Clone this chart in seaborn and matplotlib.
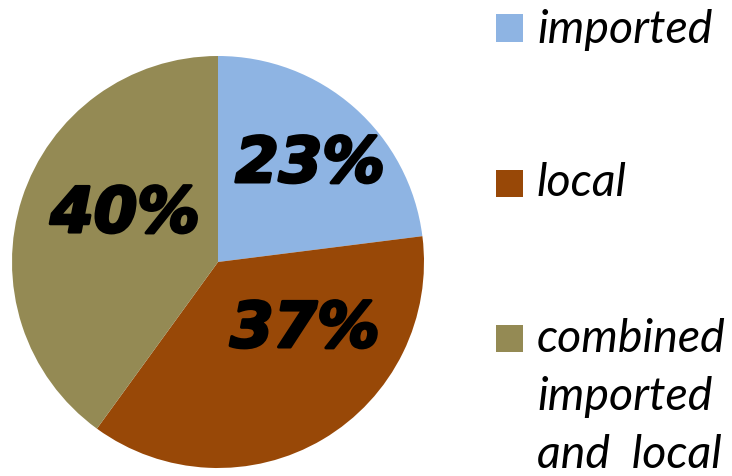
import matplotlib
matplotlib.use("Agg")
import matplotlib.pyplot as plt
import matplotlib.patheffects as pe
import seaborn as sns
import numpy as np
from matplotlib.patches import Rectangle

sns.set_theme(style="white")

categories = ["imported", "local", "combined\nimported\nand  local"]
values = [23, 37, 40]
pct_labels = ["23%", "37%", "40%"]
colors = ["#8EB4E3", "#984807", "#948A54"]

W, H = 732, 476
fig = plt.figure(figsize=(W / 100, H / 100), dpi=100)
fig.patch.set_facecolor("white")

# pie axes: center (218,262), radius 206 px
cx, cy, r = 218, 262, 206
ax = fig.add_axes([(cx - r) / W, (H - cy - r) / H, 2 * r / W, 2 * r / H])
wedges, _ = ax.pie(values, colors=colors, startangle=90, counterclock=False,
                   radius=1.0, wedgeprops=dict(linewidth=0))
ax.set_xlim(-1, 1)
ax.set_ylim(-1, 1)
ax.set_aspect("equal")
ax.axis("off")

label_pos = [(0.447, 0.471), (0.422, -0.330), (-0.451, 0.228)]
for (x, y), txt in zip(label_pos, pct_labels):
    ax.text(x, y, txt, ha="center", va="center", fontsize=45,
            fontweight="bold", fontstyle="italic", family="DejaVu Sans",
            color="black",
            path_effects=[pe.withStroke(linewidth=2.2, foreground="black")])

# legend drawn manually
sq = 27
rows = [28, 183, 338]
baselines = [43, 196, 352]
for i, (cat, col) in enumerate(zip(categories, colors)):
    yc = rows[i]
    fig.patches.append(Rectangle((496 / W, (H - yc - sq / 2) / H), sq / W, sq / H,
                                 transform=fig.transFigure, facecolor=col,
                                 edgecolor="none"))
    lines = cat.split("\n")
    for j, ln in enumerate(lines):
        fig.text(537 / W, (H - baselines[i] - j * 58) / H, ln, ha="left",
                 va="baseline", fontsize=33.5, fontstyle="italic",
                 family="Lato", color="black")

fig.savefig("out.png", dpi=100, facecolor="white")
